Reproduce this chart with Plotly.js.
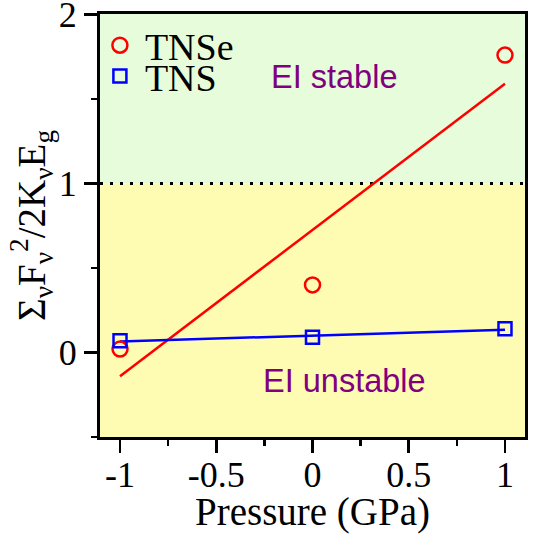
<!DOCTYPE html>
<html>
<head>
<meta charset="utf-8">
<script src="https://cdn.plot.ly/plotly-3.0.1.min.js"></script>
<style>html,body{margin:0;padding:0;background:#fff;}#chart{width:533px;height:534px;}</style>
</head>
<body>
<div id="chart"></div>
<script>
// Data
var pressure = [-1, 0, 1];
var tnseValues = [0.02, 0.40, 1.76];
var tnsValues = [0.07, 0.09, 0.14];
var fitX = [-1, 1];
var tnseFit = [-0.14, 1.59];
var tnsFit = [0.065, 0.135];
var xTickVals = [-1, -0.5, 0, 0.5, 1];
var xTickText = ['-1', '-0.5', '0', '0.5', '1'];
var yTickVals = [0, 1, 2];
var yTickText = ['0', '1', '2'];
var stableLabel = 'EI stable';
var unstableLabel = 'EI unstable';
var threshold = 1;

var serif = '"Liberation Serif", "Times New Roman", serif';
var sans = '"Liberation Sans", Arial, sans-serif';

var traces = [
  {x: fitX, y: tnseFit, mode: 'lines', line: {color: '#ff0000', width: 2.5}, showlegend: false, hoverinfo: 'skip'},
  {x: fitX, y: tnsFit, mode: 'lines', line: {color: '#0000ff', width: 2.5}, showlegend: false, hoverinfo: 'skip'},
  {x: pressure, y: tnseValues, mode: 'markers', name: 'TNSe', legend: 'legend',
   marker: {symbol: 'circle-open', size: 15, color: '#ff0000', line: {width: 2.5, color: '#ff0000'}}},
  {x: pressure, y: tnsValues, mode: 'markers', name: 'TNS', legend: 'legend2',
   marker: {symbol: 'square-open', size: 13, color: '#0000ff', line: {width: 2.5, color: '#0000ff'}}}
];

var layout = {
  width: 533, height: 534,
  margin: {l: 100, r: 8, t: 14, b: 97},
  paper_bgcolor: '#ffffff',
  plot_bgcolor: '#ffffff',
  font: {family: serif, color: '#000'},
  xaxis: {
    range: [-1.104, 1.104],
    tickvals: xTickVals, ticktext: xTickText,
    ticks: 'outside', ticklen: 13, tickwidth: 2.5, tickcolor: '#000',
    minor: {dtick: 0.25, ticks: 'outside', ticklen: 6, tickwidth: 2.5, tickcolor: '#000', showgrid: false},
    showline: true, linewidth: 3, linecolor: '#000', mirror: true,
    showgrid: false, zeroline: false, ticklabeloverflow: 'allow',
    ticklabelstandoff: -9,
    tickfont: {family: serif, size: 36, color: '#000'},
    title: {text: 'Pressure (GPa)', font: {family: serif, size: 39, color: '#000'}, standoff: 0}
  },
  yaxis: {
    range: [-0.5, 2.003],
    tickvals: yTickVals, ticktext: yTickText,
    ticks: 'outside', ticklen: 13, tickwidth: 2.5, tickcolor: '#000',
    minor: {dtick: 0.5, ticks: 'outside', ticklen: 6, tickwidth: 2.5, tickcolor: '#000', showgrid: false},
    showline: true, linewidth: 3, linecolor: '#000', mirror: true,
    showgrid: false, zeroline: false, ticklabeloverflow: 'allow',
    tickfont: {family: serif, size: 36, color: '#000'},
    title: {text: 'Σ<sub>ν</sub>F<sub>ν</sub><sup>2</sup>/2K<sub>ν</sub>E<sub>g</sub>\u00a0', font: {family: serif, size: 39, color: '#000'}, standoff: 2}
  },
  legend: {x: -0.012, y: 1, xanchor: 'left', yanchor: 'top', xref: 'paper', yref: 'paper',
    bgcolor: 'rgba(0,0,0,0)', font: {family: serif, size: 38, color: '#000'}, itemwidth: 40},
  legend2: {x: -0.012, y: 0.927, xanchor: 'left', yanchor: 'top', xref: 'paper', yref: 'paper',
    bgcolor: 'rgba(0,0,0,0)', font: {family: serif, size: 38, color: '#000'}, itemwidth: 40},
  shapes: [
    {type: 'rect', xref: 'paper', yref: 'y', x0: 0, x1: 1, y0: threshold, y1: 2.003, fillcolor: '#e6fcda', line: {width: 0}, layer: 'below'},
    {type: 'rect', xref: 'paper', yref: 'y', x0: 0, x1: 1, y0: -0.5, y1: threshold, fillcolor: '#fdfcb2', line: {width: 0}, layer: 'below'},
    {type: 'line', xref: 'paper', yref: 'y', x0: 0, x1: 1, y0: threshold, y1: threshold, line: {color: '#000', width: 3, dash: '3px,7px'}, layer: 'below'}
  ],
  annotations: [
    {x: 0.114, y: 1.63, xref: 'x', yref: 'y', text: stableLabel, showarrow: false, font: {family: sans, size: 32.5, color: '#800080'}},
    {x: 0.166, y: -0.166, xref: 'x', yref: 'y', text: unstableLabel, showarrow: false, font: {family: sans, size: 32.5, color: '#800080'}}
  ]
};

Plotly.newPlot('chart', traces, layout, {displayModeBar: false, staticPlot: true});
</script>
</body>
</html>
